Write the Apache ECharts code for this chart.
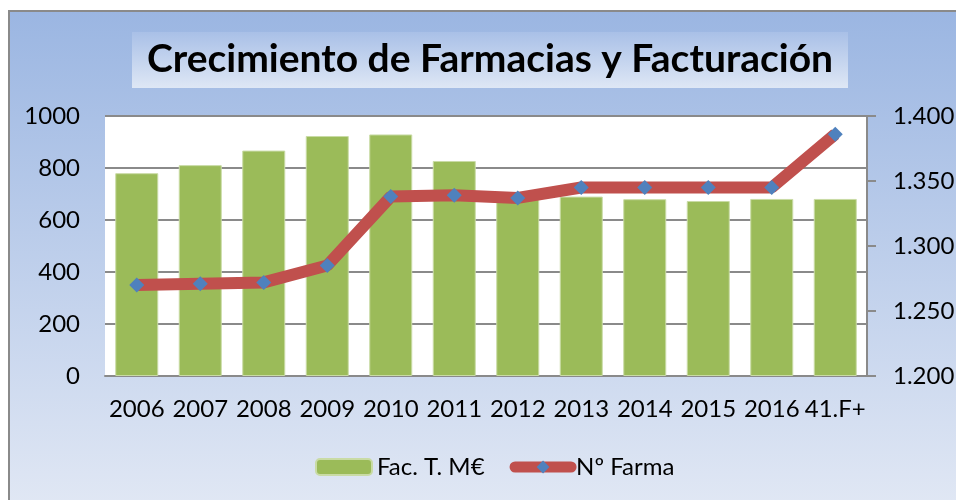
<!DOCTYPE html>
<html>
<head>
<meta charset="utf-8">
<script src="https://cdn.jsdelivr.net/npm/echarts@6/dist/echarts.min.js"></script>
<style>
  html, body { margin: 0; padding: 0; background: #fff; width: 956px; height: 500px; overflow: hidden; }
  #main {
    position: absolute; left: 8px; top: 10px; width: 948px; height: 490px;
    border-left: 2px solid #8a8a8a; border-top: 2px solid #8a8a8a;
    background: linear-gradient(to bottom, #9bb6e2, #e0e7f4);
  }
</style>
</head>
<body>
<div id="main"></div>
<script>
var myChart = echarts.init(document.getElementById('main'));

var years = ['2006', '2007', '2008', '2009', '2010', '2011', '2012', '2013', '2014', '2015', '2016', '41.F+'];
// Fac. T. M€ (left axis)
var facturacion = [780, 811, 867, 923, 929, 827, 680, 690, 680, 673, 681, 681];
// Nº Farma (right axis)
var farmacias = [1270, 1271, 1272, 1285, 1338, 1339, 1337, 1345, 1345, 1345, 1345, 1386];

var gris = '#8a8a8a';

option = {
    textStyle: { fontFamily: 'Lato' },
    title: {
        text: 'Crecimiento de Farmacias y Facturación',
        left: 480,
        top: 28,
        padding: 0,
        textAlign: 'center',
        textStyle: { fontFamily: 'Lato', fontSize: 39, fontWeight: 'bold', color: '#000' }
    },
    graphic: [{
        type: 'rect',
        shape: { x: 122, y: 20, width: 716, height: 56 },
        style: {
            fill: new echarts.graphic.LinearGradient(0, 0, 0, 1, [
                { offset: 0, color: '#a9c0e7' },
                { offset: 1, color: '#dee7f5' }
            ])
        }
    }],
    legend: {
        top: 443,
        left: 305,
        padding: 0,
        itemWidth: 56,
        itemHeight: 16,
        itemGap: 25,
        textStyle: { fontSize: 24, color: '#000', fontFamily: 'Lato' },
        data: [
            { name: 'Fac. T. M€' },
            { name: 'Nº Farma', lineStyle: { width: 11, cap: 'round' } }
        ]
    },
    grid: {
        left: 95, top: 104, width: 762, height: 260,
        outerBoundsMode: 'none',
        show: true, backgroundColor: '#fff', borderWidth: 0
    },
    xAxis: {
        type: 'category',
        data: years,
        axisLine: { show: true, lineStyle: { color: gris, width: 2 } },
        axisTick: { show: false },
        axisLabel: { fontSize: 24, color: '#000', margin: 21, interval: 0 }
    },
    yAxis: [{
        type: 'value',
        min: 0, max: 1000, interval: 200,
        axisLine: { show: false },
        axisTick: { show: false },
        axisLabel: { fontSize: 24, color: '#000', margin: 25, formatter: function (v) { return String(v); } },
        splitLine: { lineStyle: { color: gris, width: 2 } }
    }, {
        type: 'value',
        position: 'right',
        min: 1200, max: 1400, interval: 50,
        alignTicks: false,
        axisLine: { show: true, lineStyle: { color: gris, width: 2 } },
        axisTick: { show: true, length: 9, lineStyle: { color: gris, width: 2 } },
        splitLine: { show: false },
        axisLabel: {
            fontSize: 24, color: '#000', margin: 26,
            formatter: function (v) { return String(v).replace(/(\d)(\d{3})$/, '$1.$2'); }
        }
    }],
    series: [{
        name: 'Fac. T. M€',
        type: 'bar',
        data: facturacion,
        barWidth: 43,
        itemStyle: { color: '#9bbb59', borderColor: '#c9dba5', borderWidth: 1 }
    }, {
        name: 'Nº Farma',
        type: 'line',
        yAxisIndex: 1,
        data: farmacias,
        symbol: 'diamond',
        symbolSize: [15, 15],
        lineStyle: { color: '#c0504d', width: 12 },
        itemStyle: { color: '#4f81bd' },
        z: 3
    }]
};

myChart.setOption(option);
</script>
</body>
</html>
